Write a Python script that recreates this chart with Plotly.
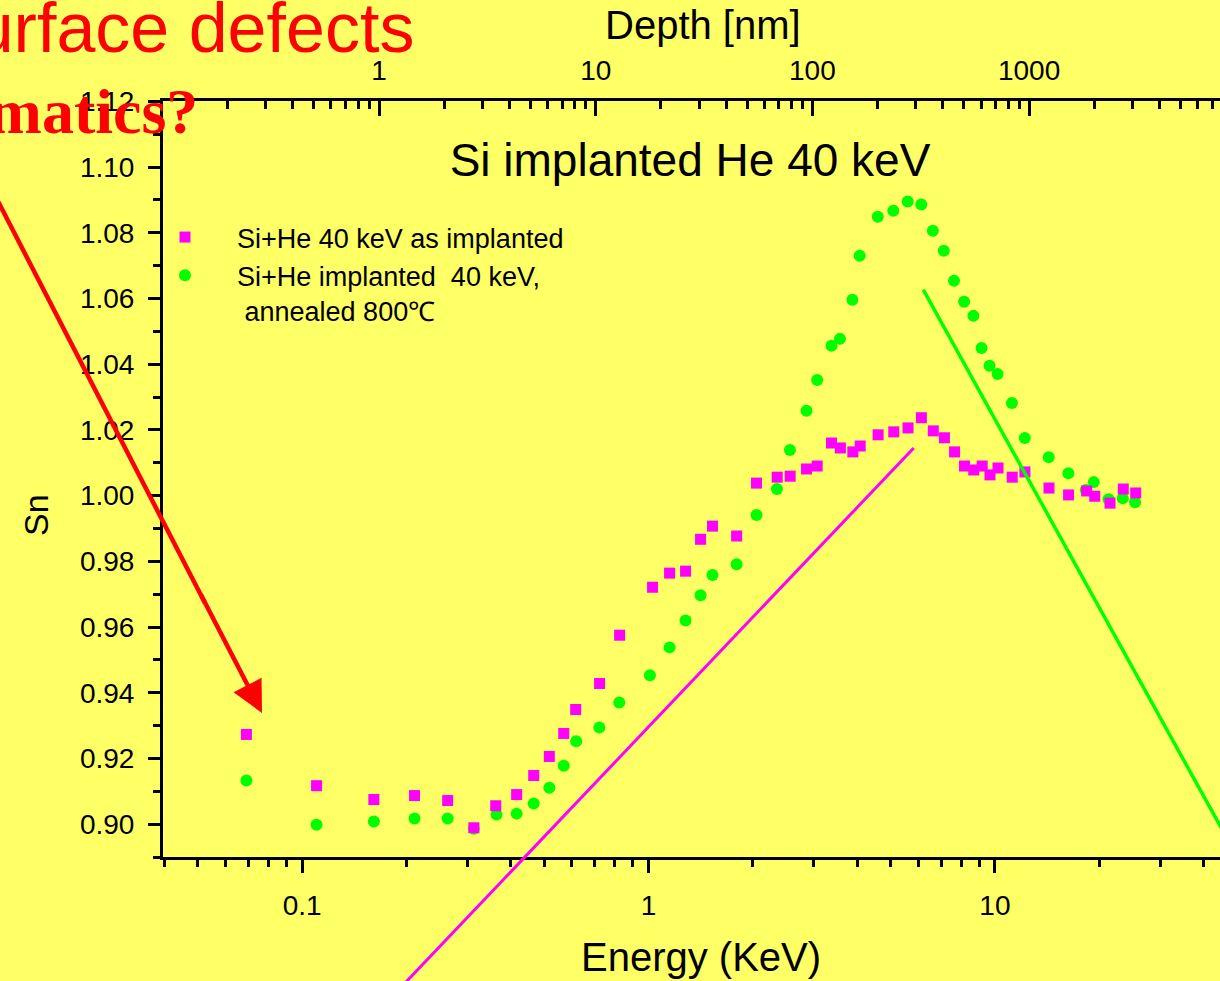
import math
import plotly.graph_objects as go

# ---------------- data ----------------
energy_as_impl = [0.069, 0.110, 0.161, 0.211, 0.263, 0.313, 0.362, 0.416, 0.466, 0.517,
                  0.569, 0.616, 0.722, 0.825, 1.027, 1.150, 1.279, 1.413, 1.530, 1.796,
                  2.050, 2.352, 2.564, 2.858, 3.068, 3.375, 3.581, 3.889, 4.084, 4.601,
                  5.105, 5.613, 6.135, 6.64, 7.15, 7.65, 8.17, 8.69, 9.19, 9.68,
                  10.21, 11.22, 12.21, 14.33, 16.32, 18.41, 19.42, 21.5, 23.48, 25.5]
sn_as_impl = [0.9273, 0.9117, 0.9075, 0.9087, 0.9072, 0.8989, 0.9056, 0.9090, 0.9148, 0.9206,
              0.9276, 0.9349, 0.9428, 0.9575, 0.9721, 0.9764, 0.9770, 0.9867, 0.9907, 0.9877,
              1.0038, 1.0056, 1.0059, 1.0081, 1.0090, 1.0160, 1.0145, 1.0133, 1.0151, 1.0185,
              1.0194, 1.0206, 1.0237, 1.0197, 1.0176, 1.0133, 1.0090, 1.0078, 1.0090, 1.0063,
              1.0084, 1.0056, 1.0072, 1.0023, 1.0002, 1.0014, 0.9998, 0.9977, 1.0020, 1.0008]

energy_annealed = [0.069, 0.110, 0.161, 0.211, 0.263, 0.313, 0.364, 0.416, 0.466, 0.517,
                   0.569, 0.618, 0.721, 0.823, 1.009, 1.150, 1.279, 1.413, 1.530, 1.796,
                   2.05, 2.348, 2.56, 2.858, 3.068, 3.375, 3.57, 3.878, 4.07, 4.59,
                   5.09, 5.60, 6.13, 6.62, 7.12, 7.62, 8.15, 8.67, 9.15, 9.65,
                   10.18, 11.2, 12.2, 14.3, 16.3, 18.3, 19.3, 21.3, 23.4, 25.4]
sn_annealed = [0.9133, 0.8998, 0.9008, 0.9017, 0.9017, 0.8986, 0.9029, 0.9032, 0.9063, 0.9111,
               0.9178, 0.9252, 0.9294, 0.9370, 0.9453, 0.9538, 0.9620, 0.9697, 0.9758, 0.9791,
               0.9941, 1.0020, 1.0139, 1.0258, 1.0352, 1.0456, 1.0477, 1.0596, 1.0730, 1.0849,
               1.0867, 1.0895, 1.0886, 1.0806, 1.0745, 1.0654, 1.0590, 1.0547, 1.0449, 1.0395,
               1.0370, 1.0282, 1.0175, 1.0117, 1.0068, 1.0017, 1.0041, 0.9989, 0.9992, 0.9980]

# guide lines (end points in data units: energy keV, Sn)
magenta_line_energy = [0.178, 5.83]
magenta_line_sn = [0.8465, 1.0145]
green_line_energy = [6.21, 58.3]
green_line_sn = [1.0627, 0.8775]

energy_ticks = [0.1, 1, 10]
energy_ticktext = ["0.1", "1", "10"]
energy_minor = [0.04, 0.05, 0.06, 0.07, 0.08, 0.09, 0.2, 0.3, 0.4, 0.5, 0.6, 0.7, 0.8, 0.9,
                2, 3, 4, 5, 6, 7, 8, 9, 20, 30, 40]
depth_ticks = [1, 10, 100, 1000]
depth_ticktext = ["1", "10", "100", "1000"]
depth_minor = [0.2, 0.3, 0.4, 0.5, 0.6, 0.7, 0.8, 0.9, 2, 3, 4, 5, 6, 7, 8, 9,
               20, 30, 40, 50, 60, 70, 80, 90, 200, 300, 400, 500, 600, 700, 800, 900,
               2000, 3000, 4000, 5000, 6000, 7000]

# ---------------- styling ----------------
BG = "#FFFF66"
MAGENTA = "#FF00FF"
GREEN = "#00FF00"
RED = "#FF0000"
FONT = "Arial, 'Liberation Sans', sans-serif"
SERIF = "'Times New Roman', 'Liberation Serif', serif"

W, H = 1220, 981
ML, MT, MB = 163, 101, 124
PW, PH = W - ML, H - MT - MB

X_RANGE = [-1.402, 1.650]
X2_RANGE = [-0.997, 3.881]
Y_RANGE = [0.89, 1.1201]


def to_paper(e, s):
    xp = (math.log10(e) - X_RANGE[0]) / (X_RANGE[1] - X_RANGE[0])
    yp = (s - Y_RANGE[0]) / (Y_RANGE[1] - Y_RANGE[0])
    return xp, yp


def px_x(px):
    return (px - ML) / PW


def px_y(py):
    return (H - MB - py) / PH


fig = go.Figure()

fig.add_trace(go.Scatter(
    x=energy_annealed, y=sn_annealed, mode="markers",
    name="Si+He implanted\u00a0 40 keV,<br>\u00a0annealed 800\u2103",
    marker=dict(symbol="circle", size=12, color=GREEN, line=dict(width=0)),
))
fig.add_trace(go.Scatter(
    x=energy_as_impl, y=sn_as_impl, mode="markers",
    name="Si+He 40 keV as implanted",
    marker=dict(symbol="square", size=11, color=MAGENTA, line=dict(width=0)),
))
# invisible trace that carries the top (depth) axis
fig.add_trace(go.Scatter(
    x=depth_ticks, y=[None] * len(depth_ticks), xaxis="x2", mode="markers",
    showlegend=False, hoverinfo="skip", marker=dict(opacity=0),
))

shapes = []
for xs, ys, col, w in [(magenta_line_energy, magenta_line_sn, MAGENTA, 3),
                       (green_line_energy, green_line_sn, GREEN, 3.5)]:
    x0, y0 = to_paper(xs[0], ys[0])
    x1, y1 = to_paper(xs[1], ys[1])
    shapes.append(dict(type="line", xref="paper", yref="paper",
                       x0=x0, y0=y0, x1=x1, y1=y1,
                       line=dict(color=col, width=w), layer="above"))

# red arrow shaft (comes in from outside the left edge)
shapes.append(dict(type="line", xref="paper", yref="paper",
                   x0=px_x(-30), y0=px_y(147), x1=px_x(205), y1=px_y(603),
                   line=dict(color=RED, width=4.5), layer="above"))

axis_common = dict(showline=True, linecolor="black", linewidth=3, showgrid=False,
                   zeroline=False, tickcolor="black", tickwidth=3,
                   tickfont=dict(family=FONT, size=28, color="black"))

fig.update_layout(
    width=W, height=H,
    margin=dict(l=ML, r=0, t=MT, b=MB, pad=0),
    paper_bgcolor=BG, plot_bgcolor=BG,
    font=dict(family=FONT, color="black"),
    title=dict(text="Si implanted He 40 keV", x=690 / W, y=1 - 160 / H,
               xanchor="center", yanchor="middle", xref="container", yref="container",
               font=dict(family=FONT, size=46, color="black")),
    xaxis=dict(type="log", range=X_RANGE, ticks="outside", ticklen=13,
               tickvals=energy_ticks, ticktext=energy_ticktext, ticklabelstandoff=8,
               minor=dict(tickvals=energy_minor, ticks="outside", ticklen=7,
                          tickwidth=2.5, tickcolor="black", showgrid=False),
               **axis_common),
    xaxis2=dict(type="log", range=X2_RANGE, overlaying="x", side="top", anchor="y",
                ticks="inside", ticklen=15, tickvals=depth_ticks, ticktext=depth_ticktext,
                ticklabelstandoff=7,
                minor=dict(tickvals=depth_minor, ticks="inside", ticklen=8,
                           tickwidth=2.5, tickcolor="black", showgrid=False),
                **axis_common),
    yaxis=dict(range=Y_RANGE, tick0=0.9, dtick=0.02, tickformat=".2f", ticks="outside",
               ticklen=12, ticklabelstandoff=8,
               minor=dict(dtick=0.01, ticks="outside", ticklen=7, tickwidth=2.5,
                          tickcolor="black", showgrid=False),
               **axis_common),
    legend=dict(x=px_x(133), y=px_y(213), xanchor="left", yanchor="top",
                bgcolor="rgba(0,0,0,0)", borderwidth=0, itemwidth=94, valign="top",
                traceorder="reversed", tracegroupgap=0,
                font=dict(family=FONT, size=27, color="black")),
    shapes=shapes,
    showlegend=True,
)

# axis titles
fig.add_annotation(text="Depth [nm]", xref="paper", yref="paper", x=px_x(703), y=px_y(25),
                   xanchor="center", yanchor="middle", showarrow=False,
                   font=dict(family=FONT, size=40, color="black"))
fig.add_annotation(text="Energy (KeV)", xref="paper", yref="paper", x=px_x(701), y=px_y(957),
                   xanchor="center", yanchor="middle", showarrow=False,
                   font=dict(family=FONT, size=40, color="black"))
fig.add_annotation(text="Sn", xref="paper", yref="paper", x=px_x(36), y=px_y(515),
                   xanchor="center", yanchor="middle", showarrow=False, textangle=-90,
                   font=dict(family=FONT, size=34, color="black"))

# red slide texts and arrow head
fig.add_annotation(text="Surface defects", xref="paper", yref="paper",
                   x=px_x(416), y=px_y(28), xanchor="right", yanchor="middle",
                   showarrow=False, font=dict(family=FONT, size=70, color=RED))
fig.add_annotation(text="<b>Kinematics?</b>", xref="paper", yref="paper",
                   x=px_x(200), y=px_y(111), xanchor="right", yanchor="middle",
                   showarrow=False, font=dict(family=SERIF, size=64, color=RED))
fig.add_annotation(text="", xref="paper", yref="paper",
                   x=px_x(262), y=px_y(713),
                   showarrow=True, arrowhead=2, arrowsize=1.4, arrowwidth=4.5,
                   arrowcolor=RED, standoff=0, ax=200 - 262, ay=593 - 713)

fig.write_html("out.html", config={"displayModeBar": False},
               post_script="document.body.style.margin='0px';")
